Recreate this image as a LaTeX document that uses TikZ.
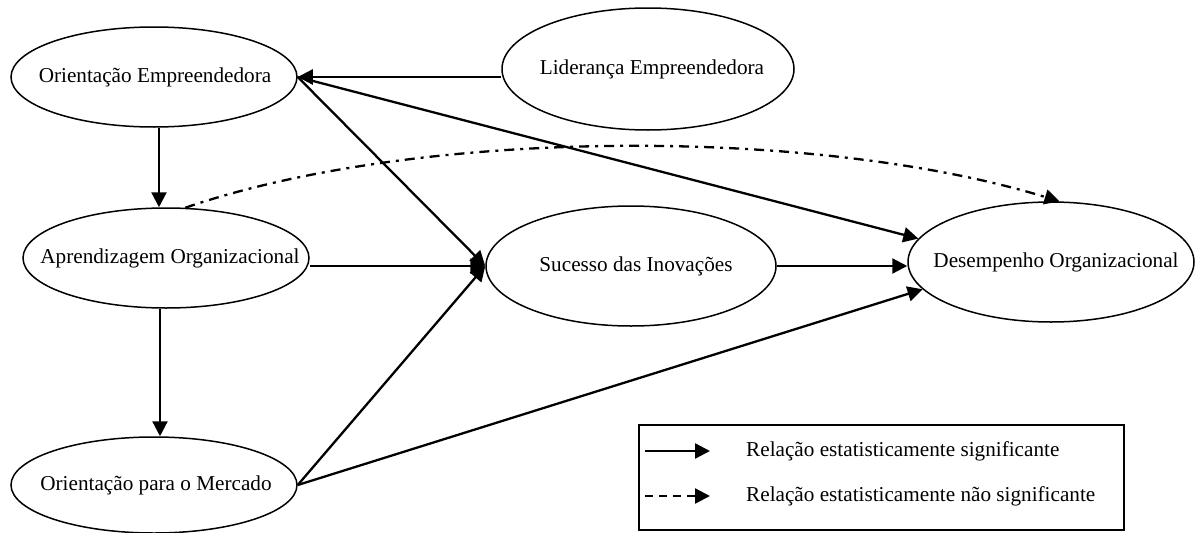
\documentclass[tikz,border=0pt]{standalone}
\usepackage{fontspec}
\setmainfont{Liberation Serif}
\usetikzlibrary{shapes.geometric,arrows.meta}

\tikzset{
  construct/.style={ellipse, draw, line width=1.5pt, inner sep=0pt},
  rel/.style={line width=2.3pt, -{Triangle[length=15pt,width=15pt]}},
  nonsig/.style={line width=2.3pt, dash pattern=on 10pt off 6pt on 3pt off 6pt,
                 -{Triangle[length=15pt,width=15pt]}},
  legendtext/.style={anchor=west, inner sep=0pt},
}

\begin{document}
\begin{tikzpicture}[x=1pt, y=-1pt, font=\fontsize{21.2}{25}\selectfont]
  \useasboundingbox (0,0) rectangle (1195,533);

  % constructs of the model
  \node[construct, minimum width=286, minimum height=100,
        label={[xshift=1pt]center:Orientação Empreendedora}] (OE) at (154,77) {};
  \node[construct, minimum width=292, minimum height=122,
        label={[xshift=4pt]center:Liderança Empreendedora}] (LE) at (648,69) {};
  \node[construct, minimum width=286, minimum height=100,
        label={[xshift=4pt]center:Aprendizagem Organizacional}] (AO) at (166,258) {};
  \node[construct, minimum width=290, minimum height=120,
        label={[xshift=5pt]center:Sucesso das Inovações}] (SI) at (631,266) {};
  \node[construct, minimum width=286, minimum height=120,
        label={[xshift=5pt]center:Desempenho Organizacional}] (DO) at (1051,262) {};
  \node[construct, minimum width=286, minimum height=96,
        label={[xshift=2pt]center:Orientação para o Mercado}] (OM) at (154,485) {};

  % significant paths
  \draw[rel] (OE.east -| LE.west) -- (OE.east);
  \draw[rel] (OE.south -| 159,0) -- (AO.north -| 159,0);
  \draw[rel] (AO.south -| 160,0) -- (OM.north -| 160,0);
  \draw[rel] (OE.east) -- (SI.west);
  \draw[rel] (AO.east |- SI.west) -- (SI.west);
  \draw[rel] (OM.east) -- (SI.west);
  \draw[rel] (OE.east) -- (DO.170);
  \draw[rel] (SI.east) -- (SI.east -| DO.west);
  \draw[rel] (OM.east) -- (DO.192);

  % non-significant path
  \draw[nonsig] (AO.69) .. controls (421,127) and (817,127) .. (DO.82);

  % legend
  \node[draw, line width=2pt, minimum width=485, minimum height=105,
        inner sep=0pt, anchor=north west] (legend) at (638,424) {};
  \coordinate (sigA) at (645,451);
  \coordinate (sigB) at (710,451);
  \coordinate (nsA) at (645,496);
  \coordinate (nsB) at (710,496);
  \draw[rel] (sigA) -- (sigB);
  \draw[line width=2.3pt, dash pattern=on 8pt off 6pt,
        -{Triangle[length=15pt,width=15pt]}] (nsA) -- (nsB);
  \node[legendtext] (sigtxt) at (746,451) {Relação estatisticamente significante};
  \node[legendtext] (nstxt) at (746,496) {Relação estatisticamente não significante};
\end{tikzpicture}
\end{document}
